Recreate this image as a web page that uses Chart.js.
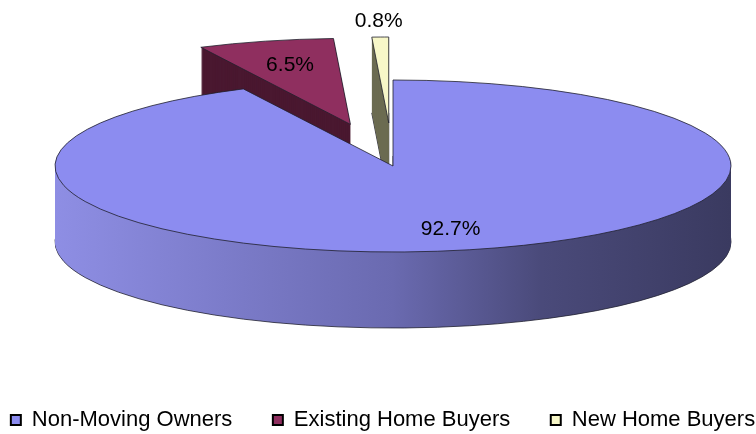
<!DOCTYPE html>
<html>
<head>
<meta charset="utf-8">
<script src="https://cdn.jsdelivr.net/npm/chart.js@4.4.1/dist/chart.umd.min.js"></script>
<style>
  html, body { margin: 0; padding: 0; background: #fff; }
  #wrap { width: 756px; height: 434px; }
</style>
</head>
<body>
<div id="wrap"><canvas id="pieChart"></canvas></div>
<script>
const categories = ["Non-Moving Owners", "Existing Home Buyers", "New Home Buyers"];
const shares = [92.7, 6.5, 0.8];

const topColors = ["#8c8cf0", "#8f2f5f", "#f7f7c8"];
const sideColors = [null, "#4a1830", "#6c6c52"];

// fake 3D: squash the library's arcs into an ellipse and extrude them downwards
const pie3d = {
    id: "pie3d",
    beforeDatasetsDraw(chart, args, opts) {
        const ctx = chart.ctx;
        const dpr = chart.currentDevicePixelRatio || 1;
        const arcs = chart.getDatasetMeta(0).data;
        const R = arcs[0].outerRadius;
        const sx = opts.rx / R, sy = opts.ry / R;

        const midAngle = (el) => (el.startAngle + el.endAngle) / 2;
        const place = (el, i, drop) => {
            const mid = midAngle(el);
            const push = opts.explode[i] * R;
            ctx.setTransform(dpr * sx, 0, 0, dpr * sy,
                dpr * (opts.cx - el.x * sx), dpr * (opts.cy + drop - el.y * sy));
            ctx.translate(Math.cos(mid) * push, Math.sin(mid) * push);
        };
        const paint = (el, fill) => {
            const w = Object.create(el);
            w.options = Object.assign({}, el.options, { backgroundColor: fill, borderWidth: 0, offset: 0 });
            el.draw.call(w, ctx);
        };
        // stroke the path left by the last fill, in screen space so lines stay thin
        const outline = (color, width) => {
            ctx.save();
            ctx.setTransform(dpr, 0, 0, dpr, 0, 0);
            ctx.lineWidth = width;
            ctx.strokeStyle = color;
            ctx.lineJoin = "round";
            ctx.stroke();
            ctx.restore();
        };

        ctx.save();
        [1, 2, 0].forEach((i) => {
            const el = arcs[i];
            let fill = sideColors[i];
            if (i === 0) {
                fill = ctx.createLinearGradient(el.x - R, 0, el.x + R, 0);
                fill.addColorStop(0, "#8e8ee4");
                fill.addColorStop(0.5, "#6a6ab0");
                fill.addColorStop(0.72, "#4a4a7a");
                fill.addColorStop(1, "#3a3a60");
            }
            for (let d = opts.depth; d >= 1; d--) {
                place(el, i, d);
                paint(el, fill);
                if (d === opts.depth) outline("#1e1e2e", 0.8);
            }
        });

        arcs.forEach((el, i) => {
            place(el, i, 0);
            paint(el, el.options.backgroundColor);
            outline("#20202c", 0.8);
        });

        ctx.setTransform(dpr, 0, 0, dpr, 0, 0);
        ctx.font = "21px 'Liberation Sans', Arial, sans-serif";
        ctx.fillStyle = "#000";
        ctx.textAlign = "center";
        ctx.textBaseline = "middle";
        arcs.forEach((el, i) => {
            const mid = midAngle(el);
            const k = opts.explode[i] + opts.labelAt[i];
            const x = opts.cx + Math.cos(mid) * k * opts.rx;
            const y = opts.cy + Math.sin(mid) * k * opts.ry;
            ctx.fillText(shares[i].toFixed(1) + "%", x, y);
        });
        ctx.restore();
        return false;
    },
};

const baseLabels = Chart.overrides.doughnut.plugins.legend.labels.generateLabels;

new Chart(document.getElementById("pieChart"), {
    type: "pie",
    data: {
        labels: categories,
        datasets: [
            {
                data: shares,
                backgroundColor: topColors,
                borderColor: "#222",
                borderWidth: 0,
                clip: false,
            },
        ],
    },
    options: {
        responsive: true,
        maintainAspectRatio: false,
        animation: false,
        events: [],
        layout: { padding: { left: -34, right: -44, top: 0, bottom: -7 } },
        plugins: {
            tooltip: { enabled: false },
            legend: {
                display: true,
                position: "bottom",
                labels: {
                    boxWidth: 10,
                    boxHeight: 10,
                    padding: 40.5,
                    color: "#000",
                    font: { family: "'Liberation Sans', Arial, sans-serif", size: 22 },
                    generateLabels(chart) {
                        return baseLabels(chart).map((it) => Object.assign(it, { lineWidth: 2, strokeStyle: "#000" }));
                    },
                },
            },
            pie3d: {
                cx: 393, cy: 166, rx: 338, ry: 86, depth: 76,
                explode: [0, 0.5, 0.5],
                labelAt: [0.75, 0.71, 1.19],
            },
        },
    },
    plugins: [pie3d],
});
</script>
</body>
</html>
